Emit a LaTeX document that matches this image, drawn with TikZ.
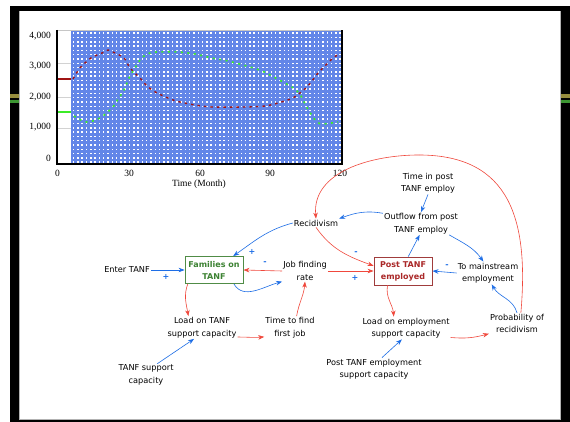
\documentclass[tikz,border=0pt]{standalone}
\usepackage{fontspec}
\setmainfont{Liberation Serif}
\newfontfamily\diag{DejaVu Sans}
\usetikzlibrary{arrows.meta,calc}
\definecolor{plotblue}{RGB}{98,134,232}
\definecolor{arrred}{RGB}{240,72,60}
\definecolor{arrblue}{RGB}{30,110,230}
\definecolor{famgreen}{RGB}{80,140,70}
\definecolor{famtext}{RGB}{60,130,50}
\definecolor{ptborder}{RGB}{160,60,60}
\definecolor{pttext}{RGB}{170,40,40}
\definecolor{curvered}{RGB}{160,20,20}
\definecolor{curvegreen}{RGB}{60,235,40}
\definecolor{sideolive}{RGB}{150,140,60}
\definecolor{sidegreen}{RGB}{60,150,50}
\tikzset{
  txt/.style={font=\diag\fontsize{8.2}{12.5}\selectfont, align=center, inner sep=1pt, text=black},
  stockbox/.style={font=\diag\bfseries\fontsize{8}{12}\selectfont, align=center, draw, line width=0.9pt, minimum width=58pt, minimum height=27pt, inner sep=1pt},
  bl/.style={arrblue, line width=0.6pt, -{Stealth[length=6pt,width=4.5pt]}},
  rd/.style={arrred, line width=0.6pt, -{Stealth[length=6pt,width=4.5pt]}},
  pol/.style={font=\diag\bfseries\fontsize{8}{8}\selectfont, text=arrblue, inner sep=0pt},
  axl/.style={font=\fontsize{9.5}{10}\selectfont, inner sep=0pt}
}
\begin{document}
\begin{tikzpicture}[x=1pt,y=1pt]
\useasboundingbox (0,0) rectangle (570,-422);
% frame
\fill[black] (10,-6) rectangle (570,-422);
\fill[white] (19,-11) rectangle (561,-420);
\draw[gray!60, line width=0.8pt] (19.6,-11) -- (19.6,-419.4) -- (560.4,-419.4) -- (560.4,-11);
\fill[sideolive] (10,-94) rectangle (19,-98.5);
\fill[sidegreen] (10,-100.5) rectangle (19,-103);
\fill[sideolive] (561,-94) rectangle (570,-98.5);
\fill[sidegreen] (561,-100.5) rectangle (570,-103);
% plot area
\fill[white] (57,-30) rectangle (342,-164);
\fill[plotblue] (71,-31) rectangle (341.5,-163.5);
\foreach \i in {0,...,62} {
  \foreach \j in {0,...,30} {
    \fill[white] ({72.8+\i*4.3},{-32.5-\j*4.3}) rectangle +(1.5,-1.5);
  }
}
\foreach \yy in {63,97,128} \draw[gray!35, line width=0.6pt] (57,-\yy) -- (71,-\yy);
\draw[curvered, line width=1.4pt] (57,-79) -- (71,-79);
\draw[curvegreen, line width=1.4pt] (57,-112) -- (71,-112);
\draw[gray!45, line width=0.8pt] (57,-30) -- (342,-30);
\draw[black, line width=1.1pt] (57,-30) -- (57,-164) -- (342,-164) -- (342,-30);
% curves
\draw[curvered, line width=1.4pt, dash pattern=on 2.5pt off 4pt] plot[smooth] coordinates {
 (73,-79) (80,-68) (91,-58) (102,-53) (108,-50) (113,-52) (124,-58) (130,-68) (140,-78)
 (147,-86) (157,-93) (173,-100) (180,-102) (195,-105) (212,-107) (243,-107) (265,-106)
 (278,-103) (293,-98) (300,-93) (306,-88) (312,-81) (318,-73) (328,-63) (333,-58) (339,-54)};
\draw[curvegreen, line width=1.6pt, dash pattern=on 2pt off 4.5pt] plot[smooth] coordinates {
 (74,-116) (86,-122) (100,-118) (113,-107) (118,-99) (124,-90) (129,-78) (135,-68)
 (140,-60) (147,-54) (157,-52) (178,-52) (195,-54) (212,-58) (228,-61) (250,-67)
 (262,-71) (272,-76) (283,-82) (295,-89) (301,-96) (306,-106) (311,-114) (317,-122)
 (323,-124) (338,-122)};
% axis labels
\node[axl, anchor=east] at (51,-36) {4,000};
\node[axl, anchor=east] at (51,-66.5) {3,000};
\node[axl, anchor=east] at (51,-97) {2,000};
\node[axl, anchor=east] at (51,-127.5) {1,000};
\node[axl, anchor=east] at (51,-158) {0};
\node[axl] at (57.5,-173) {0};
\node[axl] at (129,-173) {30};
\node[axl] at (200,-173) {60};
\node[axl] at (270,-173) {90};
\node[axl] at (340,-173) {120};
\node[axl] at (199,-184) {Time (Month)};
% diagram nodes
\node[txt] (tpost) at (428,-183) {Time in post\\TANF employ};
\node[txt] (outflow) at (421,-223.5) {Outflow from post\\TANF employ};
\node[txt] (recid) at (316,-223) {Recidivism};
\node[stockbox, draw=famgreen, text=famtext] (fam) at (214,-270) {Families on\\TANF};
\node[txt] (jfr) at (305,-271) {Job finding\\rate};
\node[stockbox, draw=ptborder, text=pttext, minimum height=28pt] (ptanf) at (403,-271) {Post TANF\\employed};
\node[txt] (mainstream) at (488,-273) {To mainstream\\employment};
\node[txt] (enter) at (127,-270) {Enter TANF};
\node[txt] (loadt) at (202,-327.5) {Load on TANF\\support capacity};
\node[txt] (ttf) at (290,-327.5) {Time to find\\first job};
\node[txt] (tsc) at (146,-375) {TANF support\\capacity};
\node[txt] (loade) at (406,-328) {Load on employment\\support capacity};
\node[txt] (pte) at (374,-369) {Post TANF employment\\support capacity};
\node[txt] (prob) at (517,-323.5) {Probability of\\recidivism};
\coordinate (arctop) at (419,-155);
% blue links
\draw[bl] (enter.east) -- (fam.west);
\draw[bl] (recid.west) to[out=195,in=35] (fam.36);
\draw[bl] (fam.-35) to[out=-60,in=195] (jfr.south west);
\draw[bl] (outflow.165) to[out=170,in=20] (recid.north east);
\draw[bl] (tpost.south) -- (outflow.north);
\draw[bl] (ptanf.70) -- (outflow.-97);
\draw[bl] (outflow.-22) to[out=-30,in=125] (mainstream.112);
\draw[bl] (mainstream.west) -- (ptanf.east);
\draw[bl] (prob.north) to[out=105,in=-60] (mainstream.-72);
\draw[bl] (tsc.45) -- (loadt.-125);
\draw[bl] (pte.55) -- (loade.-110);
% red links
\draw[rd] (recid.south) to[out=-55,in=160] (ptanf.170);
\draw[rd] (jfr.east) -- (ptanf.west);
\draw[rd] (jfr.west) -- (fam.east);
\draw[rd] (fam.-152) to[out=-110,in=100] (loadt.140);
\draw[rd] (loadt.-15) to[out=0,in=185] (ttf.-160);
\draw[rd] (ttf.60) to[out=80,in=-95] (jfr.south);
\draw[rd] (ptanf.-137) to[out=-100,in=95] (loade.137);
\draw[rd] (loade.-12) to[out=-5,in=195] (prob.-160);
\draw[arrred, line width=0.6pt] (prob.70) to[out=85,in=0,looseness=1.25] (arctop);
\draw[rd] (arctop) to[out=180,in=95] (recid.north);
% polarities
\node[pol] (p1) at (166,-277) {+};
\node[pol] (p2) at (252,-252) {+};
\node[pol] (p3) at (265,-263) {-};
\node[pol] (p4) at (356,-253) {-};
\node[pol] (p5) at (355,-278) {+};
\node[pol] (p6) at (447,-266) {-};
\end{tikzpicture}
\end{document}
